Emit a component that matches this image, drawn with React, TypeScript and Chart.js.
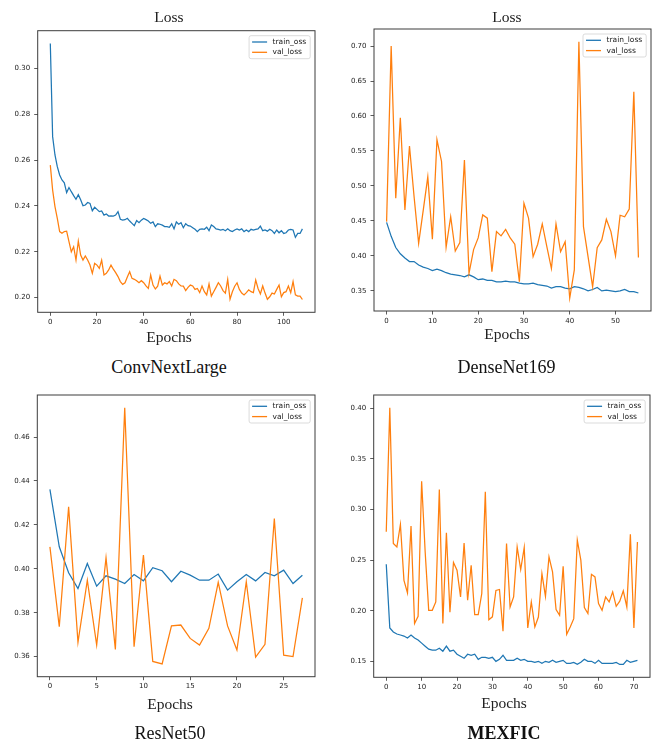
import React, { useEffect, useRef } from 'react';
import { Chart, registerables } from 'chart.js';

Chart.register(...registerables);

// ---------- data ----------
const convTrain = [
  0.3108, 0.2702, 0.2622, 0.2571, 0.2535, 0.2513, 0.2501, 0.2458, 0.248, 0.2462,
  0.2445, 0.2429, 0.2449, 0.2427, 0.2401, 0.2404, 0.2415, 0.2411, 0.2379, 0.2394,
  0.2385, 0.2375, 0.2378, 0.236, 0.2365, 0.2356, 0.2357, 0.2356, 0.236, 0.2375,
  0.2342, 0.2338, 0.234, 0.2346, 0.2334, 0.2324, 0.2314, 0.2336, 0.2327, 0.2338,
  0.2345, 0.234, 0.2334, 0.2324, 0.233, 0.231, 0.2322, 0.232, 0.2316, 0.231,
  0.231, 0.2307, 0.2322, 0.23, 0.233, 0.232, 0.2327, 0.2305, 0.2322, 0.2314,
  0.2312, 0.2305, 0.2298, 0.2288, 0.2298, 0.23, 0.2298, 0.2307, 0.2292, 0.2317,
  0.231, 0.23, 0.2298, 0.2295, 0.2298, 0.2292, 0.23, 0.2292, 0.2288, 0.2295,
  0.23, 0.2295, 0.23, 0.2288, 0.2295, 0.2288, 0.2298, 0.2295, 0.2298, 0.23,
  0.2312, 0.2292, 0.2295, 0.229, 0.2298, 0.2292, 0.228, 0.2295, 0.2283, 0.2292,
  0.228, 0.2283, 0.2295, 0.2298, 0.2295, 0.2263, 0.228, 0.228, 0.23,
];
const convVal = [
  0.2578, 0.2469, 0.2397, 0.2346, 0.2288, 0.2281, 0.2288, 0.229, 0.2244, 0.22,
  0.2222, 0.2164, 0.2247, 0.2186, 0.2164, 0.2182, 0.2164, 0.2142, 0.2106, 0.215,
  0.2142, 0.2128, 0.2164, 0.2099, 0.2106, 0.2121, 0.2142, 0.2124, 0.2109, 0.2092,
  0.207, 0.2058, 0.2065, 0.209, 0.2113, 0.2084, 0.208, 0.2074, 0.2065, 0.2074,
  0.2065, 0.2051, 0.204, 0.2099, 0.2055, 0.2038, 0.205, 0.2094, 0.2055, 0.2065,
  0.206, 0.207, 0.2051, 0.208, 0.2074, 0.206, 0.2051, 0.205, 0.2031, 0.2045,
  0.2055, 0.2051, 0.2036, 0.204, 0.2022, 0.2051, 0.2026, 0.2012, 0.206, 0.2007,
  0.2026, 0.2045, 0.2065, 0.2051, 0.2031, 0.202, 0.208, 0.1993, 0.2026, 0.205,
  0.2065, 0.2036, 0.202, 0.2012, 0.2022, 0.2034, 0.2026, 0.2022, 0.2077, 0.204,
  0.2016, 0.2051, 0.202, 0.1993, 0.2004, 0.202, 0.2016, 0.2036, 0.2055, 0.2004,
  0.2022, 0.2026, 0.2051, 0.2022, 0.207, 0.2012, 0.2007, 0.2007, 0.1992,
];

const denseTrain = [
  0.448, 0.428, 0.412, 0.403, 0.397, 0.392, 0.392, 0.387, 0.384, 0.382,
  0.379, 0.381, 0.379, 0.376, 0.374, 0.373, 0.372, 0.37, 0.373, 0.37,
  0.366, 0.367, 0.365, 0.365, 0.363, 0.363, 0.364, 0.363, 0.363, 0.361,
  0.36, 0.36, 0.361, 0.359, 0.358, 0.357, 0.354, 0.356, 0.356, 0.354,
  0.353, 0.356, 0.355, 0.353, 0.35, 0.352, 0.355, 0.35, 0.351, 0.35,
  0.349, 0.35, 0.352, 0.349, 0.349, 0.347,
];
const denseVal = [
  0.449, 0.7, 0.4824, 0.5976, 0.4657, 0.557, 0.485, 0.418, 0.465, 0.513,
  0.424, 0.566, 0.535, 0.4124, 0.456, 0.407, 0.419, 0.537, 0.375, 0.409,
  0.4257, 0.4586, 0.454, 0.3776, 0.4347, 0.4286, 0.438, 0.4257, 0.4167, 0.3633,
  0.4752, 0.454, 0.399, 0.4167, 0.4457, 0.4133, 0.382, 0.4457, 0.406, 0.4204,
  0.3396, 0.38, 0.706, 0.4419, 0.399, 0.356, 0.4117, 0.4229, 0.4524, 0.4347,
  0.4, 0.4581, 0.456, 0.4671, 0.6347, 0.3976,
];

const resTrain = [
  0.4362, 0.41, 0.3982, 0.391, 0.4024, 0.3921, 0.3968, 0.3953, 0.3933, 0.3974,
  0.3945, 0.4005, 0.3991, 0.3941, 0.3989, 0.3971, 0.3948, 0.3948, 0.3976, 0.3903,
  0.3941, 0.3974, 0.3945, 0.3983, 0.3968, 0.3994, 0.3933, 0.3971,
];
const resVal = [
  0.41, 0.3736, 0.4282, 0.3665, 0.3948, 0.3653, 0.405, 0.3633, 0.4733, 0.3645,
  0.4062, 0.3578, 0.3567, 0.374, 0.3744, 0.3683, 0.3653, 0.3729, 0.3938, 0.374,
  0.363, 0.3941, 0.3598, 0.3656, 0.4229, 0.3607, 0.36, 0.3868,
];

const mexTrain = [
  0.246, 0.183, 0.179, 0.177, 0.176, 0.175, 0.173, 0.176, 0.173, 0.171,
  0.168, 0.165, 0.162, 0.161, 0.161, 0.163, 0.16, 0.165, 0.16, 0.161,
  0.157, 0.155, 0.153, 0.157, 0.156, 0.157, 0.152, 0.154, 0.154, 0.153,
  0.154, 0.15, 0.152, 0.156, 0.151, 0.151, 0.151, 0.153, 0.151, 0.152,
  0.15, 0.15, 0.149, 0.15, 0.148, 0.15, 0.149, 0.151, 0.149, 0.15,
  0.151, 0.148, 0.148, 0.149, 0.147, 0.149, 0.152, 0.15, 0.15, 0.148,
  0.151, 0.148, 0.148, 0.148, 0.148, 0.149, 0.1469, 0.147, 0.151, 0.149,
  0.15, 0.151,
];
const mexVal = [
  0.278, 0.4005, 0.2664, 0.263, 0.2852, 0.23, 0.2176, 0.2836, 0.1873, 0.1945,
  0.328, 0.258, 0.2004, 0.2004, 0.2087, 0.3199, 0.1873, 0.277, 0.1985, 0.2476,
  0.24, 0.2136, 0.267, 0.2104, 0.245, 0.1962, 0.1962, 0.217, 0.3175, 0.1912,
  0.194, 0.22, 0.221, 0.1797, 0.2664, 0.2037, 0.2136, 0.263, 0.2407, 0.2625,
  0.183, 0.2087, 0.184, 0.1938, 0.2367, 0.2143, 0.2532, 0.2383, 0.2011, 0.1955,
  0.244, 0.1767, 0.184, 0.1922, 0.2697, 0.25, 0.2031, 0.1972, 0.236, 0.2334,
  0.2071, 0.2004, 0.2136, 0.2087, 0.2186, 0.2044, 0.2094, 0.2196, 0.2037, 0.2756,
  0.183, 0.268,
];

const convXTicks = [0, 20, 40, 60, 80, 100];
const convYTicks = [0.2, 0.22, 0.24, 0.26, 0.28, 0.3];
const denseXTicks = [0, 10, 20, 30, 40, 50];
const denseYTicks = [0.35, 0.4, 0.45, 0.5, 0.55, 0.6, 0.65, 0.7];
const resXTicks = [0, 5, 10, 15, 20, 25];
const resYTicks = [0.36, 0.38, 0.4, 0.42, 0.44, 0.46];
const mexXTicks = [0, 10, 20, 30, 40, 50, 60, 70];
const mexYTicks = [0.15, 0.2, 0.25, 0.3, 0.35, 0.4];

const trainLabels = ['train_oss', 'train_loss', 'train_oss', 'train_oss'];
const valLabel = 'val_loss';
const panelTitle = 'Loss';
const xAxisTitle = 'Epochs';
const modelNames = ['ConvNextLarge', 'DenseNet169', 'ResNet50', 'MEXFIC'];

// ---------- styles ----------
const BLUE = '#1f77b4';
const ORANGE = '#ff7f0e';
const SERIF = "'Liberation Serif', 'Times New Roman', serif";
const SANS = "'DejaVu Sans', sans-serif";
const TEXT = '#222';

const framePlugin = {
  id: 'mplFrame',
  afterDraw(chart: any) {
    const { ctx, chartArea: a } = chart;
    ctx.save();
    ctx.strokeStyle = '#3c3c3c';
    ctx.lineWidth = 1;
    ctx.strokeRect(a.left, a.top, a.right - a.left, a.bottom - a.top);

    // matplotlib-style legend, upper right
    const ds = chart.data.datasets;
    ctx.font = `7.5px ${SANS}`;
    let tw = 0;
    ds.forEach((d: any) => { tw = Math.max(tw, ctx.measureText(d.label).width); });
    const w = 23.5 + tw + 4;
    const h = 23;
    const x0 = a.right - 4.8 - w;
    const y0 = a.top + 5;
    ctx.beginPath();
    if (ctx.roundRect) ctx.roundRect(x0, y0, w, h, 2); else ctx.rect(x0, y0, w, h);
    ctx.fillStyle = 'rgba(255,255,255,0.85)';
    ctx.fill();
    ctx.strokeStyle = '#d2d2d2';
    ctx.lineWidth = 0.8;
    ctx.stroke();
    ds.forEach((d: any, i: number) => {
      const y = y0 + 6.3 + i * 10.3;
      ctx.beginPath();
      ctx.strokeStyle = d.borderColor;
      ctx.lineWidth = 1.3;
      ctx.moveTo(x0 + 3, y);
      ctx.lineTo(x0 + 18, y);
      ctx.stroke();
      ctx.fillStyle = TEXT;
      ctx.textBaseline = 'middle';
      ctx.textAlign = 'left';
      ctx.fillText(d.label, x0 + 23.5, y);
    });
    ctx.restore();
  },
};

type Panel = {
  train: number[]; val: number[]; trainLabel: string;
  xTicks: number[]; yTicks: number[];
  showTitle: boolean; name: string; bold: boolean;
  left: number; top: number; w: number; h: number;
  padTop: number; padBottom: number; yW: number; rW: number;
  titlePad: { top: number; bottom: number };
  subPad: { top: number; bottom: number };
  nameX: number; nameY: number;
};

const panels: Panel[] = [
  {
    train: convTrain, val: convVal, trainLabel: trainLabels[0], xTicks: convXTicks, yTicks: convYTicks,
    showTitle: true, name: modelNames[0], bold: false,
    left: 0, top: 0, w: 338, h: 350, padTop: 0, padBottom: 1.2, yW: 37.7, rW: 23,
    titlePad: { top: 8.7, bottom: 3.4 }, subPad: { top: 1.9, bottom: 2 },
    nameX: 169, nameY: 367,
  },
  {
    train: denseTrain, val: denseVal, trainLabel: trainLabels[1], xTicks: denseXTicks, yTicks: denseYTicks,
    showTitle: true, name: modelNames[1], bold: false,
    left: 343, top: 0, w: 328, h: 350, padTop: 0, padBottom: 3.7, yW: 31, rW: 20,
    titlePad: { top: 9, bottom: 1.4 }, subPad: { top: 0.7, bottom: 2 },
    nameX: 506.5, nameY: 367,
  },
  {
    train: resTrain, val: resVal, trainLabel: trainLabels[2], xTicks: resXTicks, yTicks: resYTicks,
    showTitle: false, name: modelNames[2], bold: false,
    left: 0, top: 380, w: 340, h: 360, padTop: 15, padBottom: 23.7, yW: 37.3, rW: 25,
    titlePad: { top: 0, bottom: 0 }, subPad: { top: 5, bottom: 2 },
    nameX: 170, nameY: 733,
  },
  {
    train: mexTrain, val: mexVal, trainLabel: trainLabels[3], xTicks: mexXTicks, yTicks: mexYTicks,
    showTitle: false, name: modelNames[3], bold: true,
    left: 338, top: 380, w: 332, h: 360, padTop: 15, padBottom: 24.7, yW: 35.7, rW: 20,
    titlePad: { top: 0, bottom: 0 }, subPad: { top: 3.4, bottom: 2 },
    nameX: 504, nameY: 733,
  },
];

function LossPanel({ p }: { p: Panel }) {
  const ref = useRef<HTMLCanvasElement | null>(null);
  useEffect(() => {
    if (!ref.current) return;
    const all = p.train.concat(p.val);
    const yMin = Math.min(...all);
    const yMax = Math.max(...all);
    const yPad = (yMax - yMin) * 0.05;
    const n = Math.max(p.train.length, p.val.length) - 1;
    const xPad = n * 0.05;
    const tickFont = { family: SANS, size: 7 };
    const gridCfg = {
      display: true, drawOnChartArea: false, drawTicks: true, tickLength: 3.5,
      color: '#333', lineWidth: 0.8,
    };
    const chart = new Chart(ref.current, {
      type: 'line',
      data: {
        datasets: [
          {
            label: p.trainLabel,
            data: p.train.map((y, i) => ({ x: i, y })),
            borderColor: BLUE, backgroundColor: BLUE, borderWidth: 1.25,
            pointRadius: 0, tension: 0, fill: false, order: 1, yAxisID: 'y',
          },
          {
            label: valLabel,
            data: p.val.map((y, i) => ({ x: i, y })),
            borderColor: ORANGE, backgroundColor: ORANGE, borderWidth: 1.25,
            pointRadius: 0, tension: 0, fill: false, order: 0, yAxisID: 'y',
          },
        ],
      },
      options: {
        responsive: false,
        maintainAspectRatio: false,
        animation: false,
        devicePixelRatio: 1,
        events: [],
        layout: { padding: { left: 0, right: 0, top: p.padTop, bottom: p.padBottom } },
        plugins: {
          legend: { display: false },
          tooltip: { enabled: false },
          title: {
            display: p.showTitle, text: panelTitle, color: TEXT,
            font: { family: SERIF, size: 15.5, weight: 'normal', lineHeight: 1.2 },
            padding: p.titlePad,
          },
          subtitle: {
            display: true, position: 'bottom', text: xAxisTitle, color: TEXT,
            font: { family: SERIF, size: 15.5, weight: 'normal', lineHeight: 1.2 },
            padding: p.subPad,
          },
        },
        scales: {
          x: {
            type: 'linear',
            min: -xPad, max: n + xPad,
            grid: gridCfg,
            border: { display: false },
            ticks: {
              font: tickFont, color: TEXT, padding: 2, maxRotation: 0, autoSkip: false,
              callback: (v: any) => String(v),
            },
            afterBuildTicks: (s: any) => { s.ticks = p.xTicks.map((v) => ({ value: v })); },
            afterFit: (s: any) => { s.height = 14; },
          },
          y: {
            type: 'linear',
            position: 'left',
            min: yMin - yPad, max: yMax + yPad,
            grid: gridCfg,
            border: { display: false },
            ticks: {
              font: tickFont, color: TEXT, padding: 4, autoSkip: false,
              callback: (v: any) => Number(v).toFixed(2),
            },
            afterBuildTicks: (s: any) => { s.ticks = p.yTicks.map((v) => ({ value: v })); },
            afterFit: (s: any) => { s.width = p.yW; },
          },
          yr: {
            type: 'linear',
            position: 'right',
            display: true,
            min: 0, max: 1,
            grid: { display: false, drawTicks: false },
            border: { display: false },
            ticks: { display: false },
            afterFit: (s: any) => { s.width = p.rW; },
          },
        },
      } as any,
      plugins: [framePlugin],
    });
    return () => chart.destroy();
  }, [p]);
  return (
    <canvas
      ref={ref}
      width={p.w}
      height={p.h}
      style={{ position: 'absolute', left: p.left, top: p.top, width: p.w, height: p.h }}
    />
  );
}

export default function App() {
  return (
    <div
      style={{
        position: 'absolute', left: 0, top: 0, width: 656, height: 740,
        overflow: 'hidden', background: '#fff',
      }}
    >
      {panels.map((p, i) => (
        <LossPanel key={i} p={p} />
      ))}
      {panels.map((p, i) => (
        <div
          key={'n' + i}
          style={{
            position: 'absolute', left: p.nameX - 150, top: p.nameY - 10, width: 300,
            textAlign: 'center', fontFamily: SERIF, fontSize: 18, lineHeight: '20px',
            fontWeight: p.bold ? 'bold' : 'normal', color: '#111', whiteSpace: 'nowrap',
          }}
        >
          {p.name}
        </div>
      ))}
    </div>
  );
}
